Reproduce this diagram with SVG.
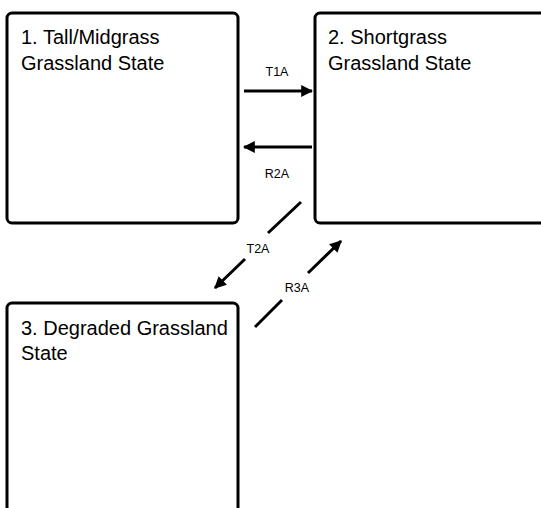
<svg xmlns="http://www.w3.org/2000/svg" width="541" height="508" viewBox="0 0 541 508">
<style>
.box{fill:#fff;stroke:#000;stroke-width:3}
.t{font-family:"Liberation Sans",Arial,sans-serif;font-size:20px;fill:#000}
.l{font-family:"Liberation Sans",Arial,sans-serif;font-size:12.5px;fill:#000;text-anchor:middle}
.c{fill:none;stroke:#000;stroke-width:3;marker-end:url(#ah)}
</style>
<defs>
<marker id="ah" viewBox="0 0 10 10" refX="9" refY="5" markerWidth="4" markerHeight="4" orient="auto" markerUnits="strokeWidth">
<path d="M0,0 L10,5 L0,10 z" fill="#000"/>
</marker>
</defs>
<g id="node1">
<rect class="box" x="7" y="13" width="231" height="210" rx="5"/>
<text class="t" x="21" y="44">1. Tall/Midgrass</text>
<text class="t" x="21" y="70">Grassland State</text>
</g>
<g id="node2">
<rect class="box" x="315" y="13" width="240" height="210" rx="5"/>
<text class="t" x="328" y="44">2. Shortgrass</text>
<text class="t" x="328" y="70">Grassland State</text>
</g>
<g id="node3">
<rect class="box" x="7" y="303" width="231" height="220" rx="5"/>
<text class="t" x="21" y="335">3. Degraded Grassland</text>
<text class="t" x="21" y="360">State</text>
</g>
<g id="connectors">
<path class="c" d="M244,91 L312,91"/>
<text class="l" x="277" y="76">T1A</text>
<path class="c" d="M312,147 L244,147"/>
<text class="l" x="277" y="178">R2A</text>
<path class="c" d="M301,202 L268,233 M245,259 L215,288"/>
<text class="l" x="258" y="253">T2A</text>
<path class="c" d="M255,327 L282,300 M308,273 L341,241"/>
<text class="l" x="297" y="292">R3A</text>
</g>
</svg>
